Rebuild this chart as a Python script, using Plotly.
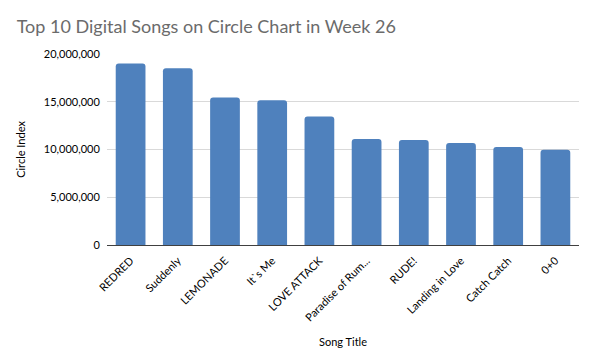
import plotly.graph_objects as go

songs = ["REDRED", "Suddenly", "LEMONADE", "It`s Me", "LOVE ATTACK",
         "Paradise of Rum...", "RUDE!", "Landing in Love", "Catch Catch", "0+0"]
circle_index = [19000000, 18500000, 15450000, 15150000, 13450000,
                11100000, 11000000, 10680000, 10260000, 9980000]
y_ticks = [0, 5000000, 10000000, 15000000, 20000000]
y_tick_labels = ["0", "5,000,000", "10,000,000", "15,000,000", "20,000,000"]

font_family = "Lato, 'Open Sans', sans-serif"

fig = go.Figure(go.Bar(
    x=songs, y=circle_index,
    marker=dict(color="#4F81BD", cornerradius=3, line=dict(width=0)),
))

fig.update_layout(
    width=595, height=363,
    margin=dict(l=107, r=16, t=54, b=118),
    paper_bgcolor="white", plot_bgcolor="white",
    bargap=0.37,
    showlegend=False,
    font=dict(family=font_family, color="#000000", size=11),
    title=dict(text="Top 10 Digital Songs on Circle Chart in Week 26",
               x=0.028, xanchor="left", y=0.927, yanchor="middle",
               font=dict(family=font_family, size=18, color="#6b6b6b")),
)

fig.update_xaxes(
    title=dict(text="Song Title", font=dict(size=11), standoff=15),
    tickangle=-45, tickfont=dict(size=11),
    showline=True, linecolor="#404040", linewidth=1,
    ticks="outside", tickcolor="rgba(0,0,0,0)", ticklen=4,
    showgrid=False,
)
fig.update_yaxes(
    title=dict(text="Circle Index", font=dict(size=11), standoff=15),
    range=[0, 20000000], tickvals=y_ticks, ticktext=y_tick_labels,
    tickfont=dict(size=11),
    showgrid=True, gridcolor="#D9D9D9", gridwidth=1,
    zeroline=False, showline=False, ticks="outside",
    tickcolor="rgba(0,0,0,0)", ticklen=4,
)

fig.write_html("out.html")
